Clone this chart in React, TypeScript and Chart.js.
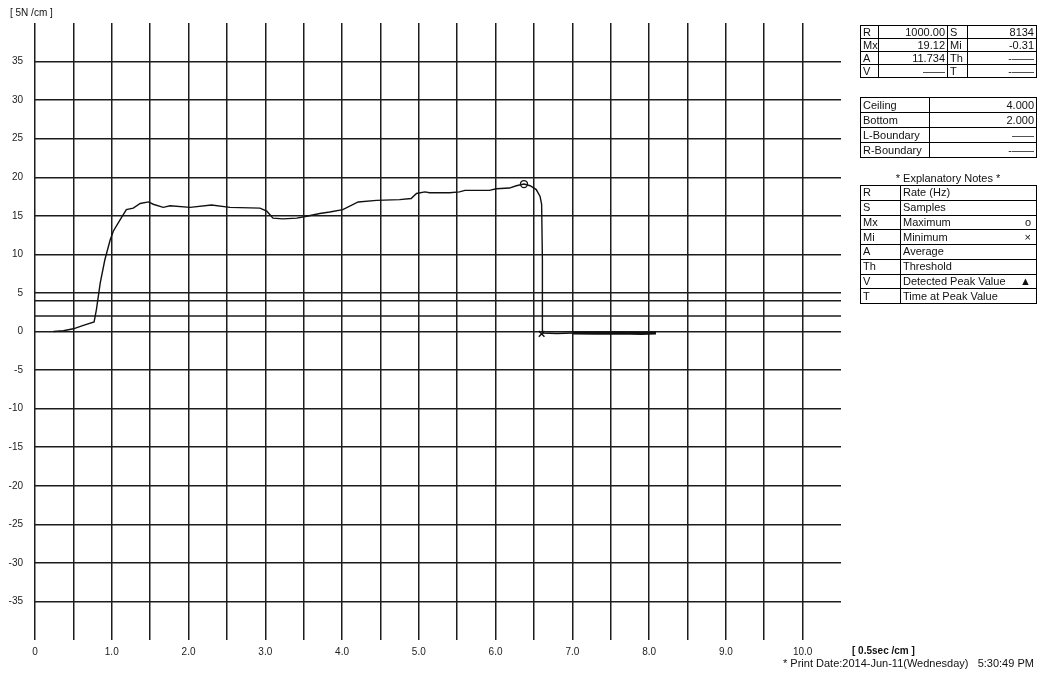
import React, { useEffect, useRef } from "react";
import { Chart, registerables } from "chart.js";

Chart.register(...registerables);

// ---- data ----
const timeSec = [0.24, 0.37, 0.5, 0.63, 0.77, 0.8, 0.85, 0.91, 0.98, 1.02, 1.11, 1.19, 1.28, 1.37, 1.48, 1.54, 1.67, 1.76, 2.02, 2.3, 2.54, 2.93, 3.02, 3.1, 3.23, 3.41, 3.54, 3.71, 3.84, 4.01, 4.21, 4.45, 4.75, 4.9, 4.97, 5.08, 5.14, 5.4, 5.53, 5.6, 5.84, 5.92, 6.01, 6.18, 6.27, 6.37, 6.45, 6.53, 6.58, 6.6, 6.61, 6.61, 6.8, 7.0, 7.3, 7.6, 7.9, 8.09];
const forceN = [0.0, 0.1, 0.35, 0.8, 1.25, 2.85, 6.3, 9.3, 11.9, 13.0, 14.5, 15.8, 16.0, 16.6, 16.8, 16.5, 16.1, 16.3, 16.1, 16.4, 16.1, 16.0, 15.6, 14.7, 14.6, 14.7, 14.95, 15.3, 15.5, 15.8, 16.8, 17.0, 17.1, 17.25, 17.9, 18.1, 18.0, 18.0, 18.1, 18.3, 18.3, 18.3, 18.5, 18.6, 18.9, 19.12, 18.9, 18.4, 17.5, 16.5, 9.3, -0.2, -0.25, -0.2, -0.22, -0.2, -0.25, -0.2];

const maxPoint = [6.37, 19.12];
const minPoint = [6.6, -0.31];
const ceilingValue = 4.0;
const bottomValue = 2.0;

const xTickRange = [0, 10.5];
const yTickRange = [-40, 40];

const statsRows = [
  ["R", "1000.00", "S", "8134"],
  ["Mx", "19.12", "Mi", "-0.31"],
  ["A", "11.734", "Th", "-——"],
  ["V", "——", "T", "-——"],
];
const limitRows = [
  ["Ceiling", "4.000"],
  ["Bottom", "2.000"],
  ["L-Boundary", "——"],
  ["R-Boundary", "-——"],
];
const noteRows = [
  ["R", "Rate (Hz)", ""],
  ["S", "Samples", ""],
  ["Mx", "Maximum", "ο"],
  ["Mi", "Minimum", "×"],
  ["A", "Average", ""],
  ["Th", "Threshold", ""],
  ["V", "Detected Peak Value", "▲"],
  ["T", "Time at Peak Value", ""],
];

const FONT = '"Liberation Sans", Arial, sans-serif';
const GRID = "#1c1c1c";

export default function App() {
  const ref = useRef<HTMLCanvasElement | null>(null);

  useEffect(() => {
    document.body.style.margin = "0";
    const canvas = ref.current;
    if (!canvas) return;
    const curve = timeSec.map((t, i) => ({ x: t, y: forceN[i] }));
    const chart = new Chart(canvas, {
      type: "line",
      data: {
        datasets: [
          {
            data: curve,
            borderColor: "#111",
            borderWidth: 1.4,
            pointRadius: 0,
            tension: 0,
            segment: {
              borderWidth: (ctx: any) => (ctx.p0.parsed.x >= 6.9 ? 3 : 1.4),
            },
          },
          {
            data: [
              { x: xTickRange[0], y: ceilingValue },
              { x: xTickRange[1], y: ceilingValue },
            ],
            borderColor: GRID,
            borderWidth: 1.5,
            pointRadius: 0,
          },
          {
            data: [
              { x: xTickRange[0], y: bottomValue },
              { x: xTickRange[1], y: bottomValue },
            ],
            borderColor: GRID,
            borderWidth: 1.5,
            pointRadius: 0,
          },
          {
            data: [{ x: maxPoint[0], y: maxPoint[1] }],
            showLine: false,
            pointStyle: "circle",
            pointRadius: 3.5,
            borderColor: "#111",
            borderWidth: 1.3,
            backgroundColor: "#fff",
          },
          {
            data: [{ x: minPoint[0], y: minPoint[1] }],
            showLine: false,
            pointStyle: "crossRot",
            pointRadius: 4,
            borderColor: "#111",
            borderWidth: 1.5,
          },
        ],
      },
      options: {
        responsive: false,
        animation: false,
        devicePixelRatio: 1,
        layout: { padding: { top: 23, right: 202, left: 0, bottom: 0 } },
        plugins: { legend: { display: false }, tooltip: { enabled: false } },
        scales: {
          x: {
            type: "linear",
            min: xTickRange[0],
            max: xTickRange[1],
            afterFit: (s: any) => {
              s.height = 37;
            },
            border: { display: false },
            grid: {
              drawTicks: false,
              lineWidth: 1.5,
              color: (ctx: any) => (ctx.tick && ctx.tick.value >= xTickRange[1] ? "rgba(0,0,0,0)" : GRID),
            },
            ticks: {
              stepSize: 0.5,
              autoSkip: false,
              maxRotation: 0,
              padding: 6,
              color: "#222",
              font: { family: FONT, size: 10 },
              callback: (v: any) => {
                const n = Number(v);
                if (n === 0) return "0";
                return Number.isInteger(n) ? n.toFixed(1) : "";
              },
            },
          },
          y: {
            type: "linear",
            min: yTickRange[0],
            max: yTickRange[1],
            afterFit: (s: any) => {
              s.width = 35;
            },
            border: { display: false },
            grid: {
              drawTicks: false,
              lineWidth: 1.5,
              color: (ctx: any) =>
                ctx.tick && Math.abs(ctx.tick.value) >= 40 ? "rgba(0,0,0,0)" : GRID,
            },
            ticks: {
              stepSize: 5,
              padding: 12,
              color: "#222",
              font: { family: FONT, size: 10 },
              callback: (v: any) => (Math.abs(Number(v)) >= 40 ? "" : String(v)),
            },
          },
        },
      },
    });
    return () => chart.destroy();
  }, []);

  const td = (extra: any = {}) => ({
    border: "1px solid #000",
    padding: "0 2px",
    whiteSpace: "nowrap" as const,
    overflow: "hidden",
    ...extra,
  });
  const tableStyle = (top: number) => ({
    position: "absolute" as const,
    left: 860,
    top,
    width: 176,
    borderCollapse: "collapse" as const,
    tableLayout: "fixed" as const,
    font: `11px ${FONT}`,
    lineHeight: "11px",
    color: "#111",
    border: "1.5px solid #000",
  });

  return (
    <div style={{ position: "fixed", left: 0, top: 0, width: 1043, height: 677, background: "#fff", overflow: "hidden" }}>
      <canvas ref={ref} width={1043} height={677} style={{ display: "block", width: 1043, height: 677 }} />
      <div style={{ position: "absolute", left: 10, top: 7, font: `10px ${FONT}`, color: "#111" }}>[ 5N /cm ]</div>
      <div style={{ position: "absolute", left: 852, top: 645, font: `bold 10px ${FONT}`, color: "#111" }}>[ 0.5sec /cm ]</div>
      <div style={{ position: "absolute", left: 783, top: 657, font: `11px ${FONT}`, color: "#111", whiteSpace: "pre" }}>
        {"* Print Date:2014-Jun-11(Wednesday)   5:30:49 PM"}
      </div>

      <table style={tableStyle(25)}>
        <colgroup>
          <col style={{ width: 18 }} />
          <col style={{ width: 69 }} />
          <col style={{ width: 20 }} />
          <col style={{ width: 69 }} />
        </colgroup>
        <tbody>
          {statsRows.map((r, i) => (
            <tr key={i} style={{ height: 13 }}>
              <td style={td()}>{r[0]}</td>
              <td style={td({ textAlign: "right" })}>{r[1]}</td>
              <td style={td()}>{r[2]}</td>
              <td style={td({ textAlign: "right" })}>{r[3]}</td>
            </tr>
          ))}
        </tbody>
      </table>

      <table style={tableStyle(97)}>
        <colgroup>
          <col style={{ width: 69 }} />
          <col style={{ width: 107 }} />
        </colgroup>
        <tbody>
          {limitRows.map((r, i) => (
            <tr key={i} style={{ height: 15 }}>
              <td style={td()}>{r[0]}</td>
              <td style={td({ textAlign: "right" })}>{r[1]}</td>
            </tr>
          ))}
        </tbody>
      </table>

      <div style={{ position: "absolute", left: 860, top: 172, width: 176, textAlign: "center", font: `11px ${FONT}`, color: "#111" }}>
        * Explanatory Notes *
      </div>

      <table style={tableStyle(185)}>
        <colgroup>
          <col style={{ width: 40 }} />
          <col style={{ width: 136 }} />
        </colgroup>
        <tbody>
          {noteRows.map((r, i) => (
            <tr key={i} style={{ height: 14.75 }}>
              <td style={td()}>{r[0]}</td>
              <td style={td()}>
                <span>{r[1]}</span>
                <span style={{ float: "right", paddingRight: 3 }}>{r[2]}</span>
              </td>
            </tr>
          ))}
        </tbody>
      </table>
    </div>
  );
}
